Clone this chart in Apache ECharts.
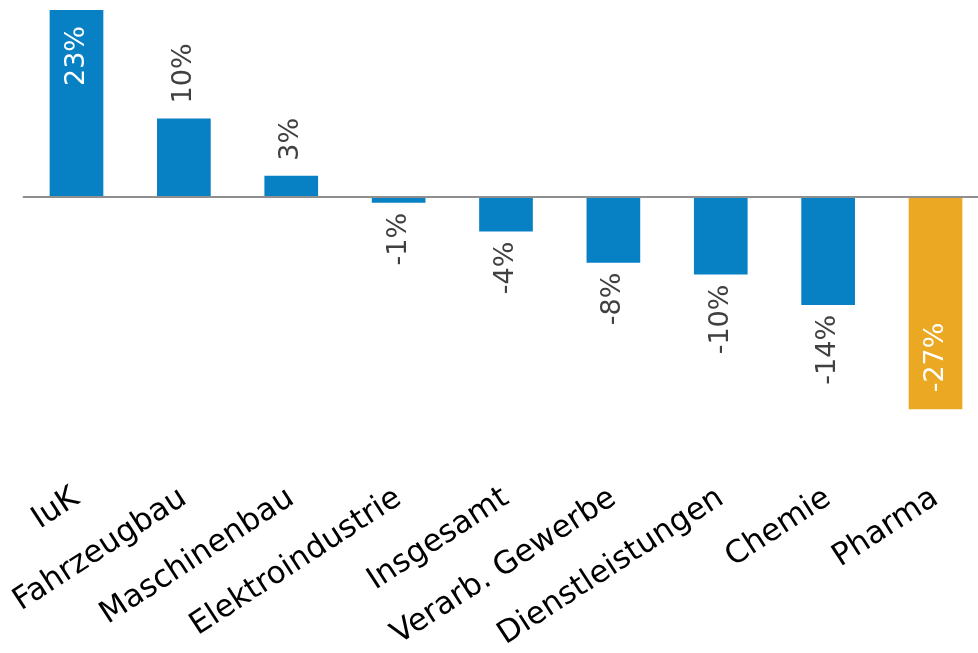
<!DOCTYPE html>
<html>
<head>
<meta charset="utf-8">
<script src="https://cdn.jsdelivr.net/npm/echarts@6/dist/echarts.min.js"></script>
<style>
html,body{margin:0;padding:0;background:#fff;}
#chart{width:978px;height:653px;}
</style>
</head>
<body>
<div id="chart"></div>
<script>
const categories = ['IuK','Fahrzeugbau','Maschinenbau','Elektroindustrie','Insgesamt','Verarb. Gewerbe','Dienstleistungen','Chemie','Pharma'];
const values = [23.4, 9.8, 2.6, -0.8, -4.4, -8.3, -9.8, -13.6, -26.7];
const highlight = ['Pharma'];

const BLUE = '#0780C4';
const ORANGE = '#EBA823';
const FONT = 'DejaVu Sans';

const data = values.map((v, i) => {
  const cat = categories[i];
  const color = highlight.includes(cat) ? ORANGE : BLUE;
  const big = Math.abs(v) > 20;
  let label;
  if (v >= 0) {
    label = big
      ? {position: 'insideTop', distance: 16, align: 'right', color: '#fff'}
      : {position: 'top', distance: 15, align: 'left', color: '#404040'};
  } else {
    label = big
      ? {position: 'insideBottom', distance: 17, align: 'left', color: '#fff'}
      : {position: 'bottom', distance: 10, align: 'right', color: '#404040'};
  }
  return {value: v, itemStyle: {color}, label};
});

const chart = echarts.init(document.getElementById('chart'), null, {renderer: 'canvas'});
chart.setOption({
  animation: false,
  grid: {left: 22.8, width: 966.4, top: 5.2, bottom: 185.5, containLabel: false, outerBoundsMode: 'none'},
  xAxis: {
    type: 'category',
    data: categories,
    axisLine: {show: false, onZero: false},
    axisTick: {show: false},
    axisLabel: {interval: 0, rotate: 33, margin: 28, fontSize: 31, color: '#000', fontFamily: FONT}
  },
  yAxis: {
    type: 'value', min: -34, max: 24,
    show: false,
    splitLine: {show: false}
  },
  series: [{
    type: 'bar',
    barWidth: '50%',
    data: data,
    label: {
      show: true, rotate: 90, verticalAlign: 'middle',
      fontSize: 27, fontFamily: FONT,
      formatter: p => Math.round(p.value) + '%'
    },
    markLine: {
      silent: true, symbol: 'none',
      label: {show: false},
      lineStyle: {color: '#8f8f8f', width: 2, type: 'solid'},
      data: [{yAxis: 0}]
    }
  }]
});
</script>
</body>
</html>
